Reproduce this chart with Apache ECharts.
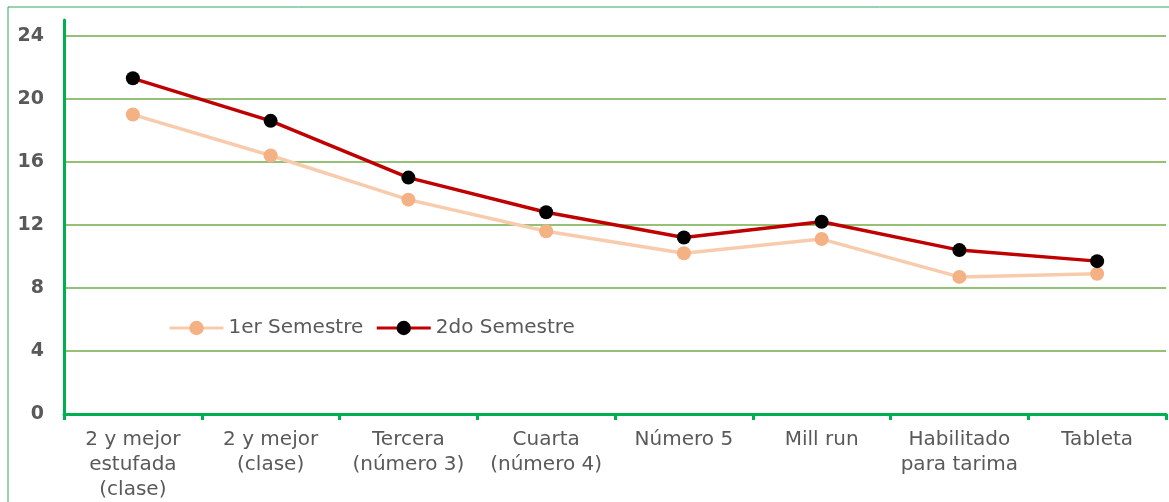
<!DOCTYPE html>
<html><head><meta charset="utf-8">
<script src="https://cdn.jsdelivr.net/npm/echarts@6/dist/echarts.min.js"></script>
<style>html,body{margin:0;padding:0;background:#fff}#c{width:1169px;height:502px}</style>
</head><body><div id="c"></div>
<script>
const categories = ['2 y mejor\nestufada\n(clase)', '2 y mejor\n(clase)', 'Tercera\n(número 3)', 'Cuarta\n(número 4)', 'Número 5', 'Mill run', 'Habilitado\npara tarima', 'Tableta'];
const sem1 = [19.0, 16.4, 13.6, 11.6, 10.2, 11.1, 8.7, 8.9];
const sem2 = [21.3, 18.6, 15.0, 12.8, 11.2, 12.2, 10.4, 9.7];
const seriesNames = ['1er Semestre', '2do Semestre'];

const FONT = 'DejaVu Sans';
const chart = echarts.init(document.getElementById('c'), null, {renderer: 'canvas'});
const grid = '#70AD47';
chart.setOption({
  animation: false,
  textStyle: {fontFamily: FONT},
  graphic: [{
    type: 'rect', shape: {x: 8, y: 7, width: 1300, height: 700},
    style: {fill: 'none', stroke: '#2FA85A', lineWidth: 1}, z: 0
  }],
  grid: {left: 64, right: 3, top: 20, bottom: 85},
  legend: {
    left: 163, top: 313, itemWidth: 54, itemHeight: 18, itemGap: 12,
    lineStyle: {width: 3},
    textStyle: {fontFamily: FONT, fontSize: 20, color: '#595959'},
    data: seriesNames
  },
  xAxis: {
    type: 'category', data: categories, boundaryGap: true,
    axisLine: {lineStyle: {color: '#00B050', width: 3}},
    axisTick: {show: true, length: 6, lineStyle: {color: '#00B050', width: 3}},
    axisLabel: {color: '#595959', fontSize: 20, lineHeight: 25, margin: 13, fontFamily: FONT, interval: 0}
  },
  yAxis: {
    type: 'value', min: 0, max: 25, interval: 4,
    axisLine: {show: true, lineStyle: {color: '#00B050', width: 3}},
    axisTick: {show: false},
    axisLabel: {color: '#595959', fontSize: 19, fontWeight: 'bold', margin: 20, fontFamily: FONT, showMaxLabel: false},
    splitLine: {show: true, lineStyle: {color: [grid, grid, grid, grid, grid, grid, grid, 'rgba(0,0,0,0)'], width: 1.5}}
  },
  series: [
    {
      name: seriesNames[0], type: 'line', data: sem1,
      symbol: 'circle', symbolSize: 14,
      lineStyle: {color: '#F8CBAD', width: 3.5},
      itemStyle: {color: '#F4B183'}
    },
    {
      name: seriesNames[1], type: 'line', data: sem2,
      symbol: 'circle', symbolSize: 14,
      lineStyle: {color: '#C00000', width: 3.5},
      itemStyle: {color: '#000000'}
    }
  ]
});
</script></body></html>
